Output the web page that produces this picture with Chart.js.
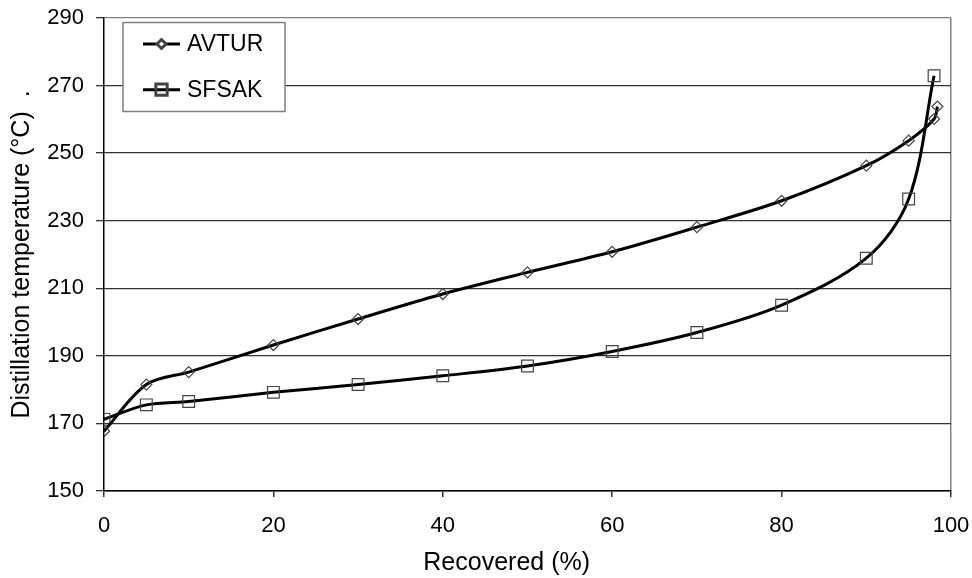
<!DOCTYPE html>
<html>
<head>
<meta charset="utf-8">
<title>Distillation curves</title>
<script src="https://cdn.jsdelivr.net/npm/chart.js@4.4.1/dist/chart.umd.min.js"></script>
<style>
  html, body { margin: 0; padding: 0; background: #fff; }
  #wrap { position: relative; width: 972px; height: 578px; }
</style>
</head>
<body>
<div id="wrap"><canvas id="distChart"></canvas></div>
<script>
  // distillation data: % recovered vs temperature (°C)
  const avturRecovered = [0, 5, 10, 20, 30, 40, 50, 60, 70, 80, 90, 95, 98, 98.4];
  const avturTemp = [167.7, 181.5, 185.2, 193.2, 200.9, 208.3, 214.7, 220.8, 228.1, 235.9, 246.3, 253.7, 260.1, 263.8];
  const sfsakRecovered = [0, 5, 10, 20, 30, 40, 50, 60, 70, 80, 90, 95, 98];
  const sfsakTemp = [171.2, 175.5, 176.5, 179.2, 181.5, 184.1, 187.0, 191.3, 196.9, 205.0, 218.9, 236.4, 272.9];

  const xTicks = [0, 20, 40, 60, 80, 100];
  const yTicks = [150, 170, 190, 210, 230, 250, 270, 290];

  const FONT = "'Liberation Sans', Arial, sans-serif";

  function toXY(xs, ys) {
    return xs.map((x, i) => ({ x, y: ys[i] }));
  }

  // legend box drawn inside the plot, top-left
  const insideLegend = {
    id: 'insideLegend',
    afterDatasetsDraw(chart) {
      const { ctx, chartArea } = chart;
      const bx = chartArea.left + 19, by = chartArea.top + 4.5;
      const bw = 162, bh = 89;
      ctx.save();
      ctx.fillStyle = '#fff';
      ctx.fillRect(bx, by, bw, bh);
      ctx.strokeStyle = '#808080';
      ctx.lineWidth = 1.5;
      ctx.strokeRect(bx, by, bw, bh);

      chart.data.datasets.forEach((ds, i) => {
        const y = by + 21.5 + i * 45.7;
        const x0 = bx + 20, x1 = bx + 57;
        ctx.strokeStyle = '#000';
        ctx.lineWidth = 3;
        ctx.beginPath();
        ctx.moveTo(x0, y);
        ctx.lineTo(x1, y);
        ctx.stroke();

        ctx.strokeStyle = ds.pointBorderColor;
        ctx.fillStyle = ds.legendFill;
        Chart.helpers.drawPoint(ctx, {
          pointStyle: ds.pointStyle,
          radius: ds.legendRadius,
          borderWidth: ds.pointBorderWidth,
          rotation: 0,
        }, (x0 + x1) / 2, y);

        ctx.fillStyle = '#000';
        ctx.font = '23px ' + FONT;
        ctx.textBaseline = 'middle';
        ctx.textAlign = 'left';
        ctx.fillText(ds.label, x1 + 7, y + 1);
      });
      ctx.restore();
    },
  };

  // keep the plot area where layout.padding puts it
  function noLabelPadding(scale) {
    scale.paddingTop = 0;
    scale.paddingBottom = 0;
    scale.paddingLeft = 0;
    scale.paddingRight = 0;
  }

  new Chart(document.getElementById('distChart'), {
    type: 'line',
    data: {
      datasets: [
        {
          label: 'AVTUR',
          data: toXY(avturRecovered, avturTemp),
          borderColor: '#000',
          borderWidth: 3,
          tension: 0.33,
          pointStyle: 'rectRot',
          pointRadius: 5.5,
          legendRadius: 4.5,
          legendFill: '#fff',
          pointBorderColor: '#444',
          pointBorderWidth: 1.2,
          pointBackgroundColor: 'rgba(0,0,0,0)',
        },
        {
          label: 'SFSAK',
          data: toXY(sfsakRecovered, sfsakTemp),
          borderColor: '#000',
          borderWidth: 3,
          tension: 0.33,
          pointStyle: 'rect',
          pointRadius: 8.3,
          legendRadius: 8,
          legendFill: 'rgba(0,0,0,0)',
          pointBorderColor: '#444',
          pointBorderWidth: 1.2,
          pointBackgroundColor: 'rgba(0,0,0,0)',
        },
      ],
    },
    options: {
      responsive: true,
      maintainAspectRatio: false,
      animation: false,
      layout: { padding: { top: 18, right: 21, left: 0, bottom: 0 } },
      plugins: {
        legend: { display: false },
        tooltip: { enabled: false },
      },
      scales: {
        x: {
          type: 'linear',
          min: 0,
          max: 100,
          afterBuildTicks: (scale) => { scale.ticks = xTicks.map(v => ({ value: v })); },
          afterFit: (scale) => { scale.height = 87; noLabelPadding(scale); },
          border: { color: '#000', width: 1.5 },
          grid: {
            drawOnChartArea: true,
            color: (c) => (c.tick && c.tick.value === 100 ? '#808080' : 'rgba(0,0,0,0)'),
            tickColor: '#333',
            tickLength: 6,
            lineWidth: 1.5,
          },
          ticks: { color: '#000', font: { family: FONT, size: 22 }, padding: 16, maxRotation: 0 },
          title: {
            display: true,
            text: 'Recovered (%)      ',
            color: '#000',
            font: { family: FONT, size: 25 },
            padding: { top: 0, bottom: 0 },
          },
        },
        y: {
          min: 150,
          max: 290,
          afterBuildTicks: (scale) => { scale.ticks = yTicks.map(v => ({ value: v })); },
          afterFit: (scale) => { scale.width = 104; noLabelPadding(scale); },
          border: { color: '#000', width: 1.5 },
          grid: {
            color: (c) => (c.tick && c.tick.value === 290 ? '#808080' : '#333'),
            tickColor: '#333',
            tickLength: 8,
            lineWidth: 1.3,
          },
          ticks: { color: '#000', font: { family: FONT, size: 22 }, padding: 12 },
          title: {
            display: true,
            text: 'Distillation temperature (°C)  .',
            color: '#000',
            font: { family: FONT, size: 25 },
            padding: { top: 7, bottom: 0 },
          },
        },
      },
    },
    plugins: [insideLegend],
  });
</script>
</body>
</html>
